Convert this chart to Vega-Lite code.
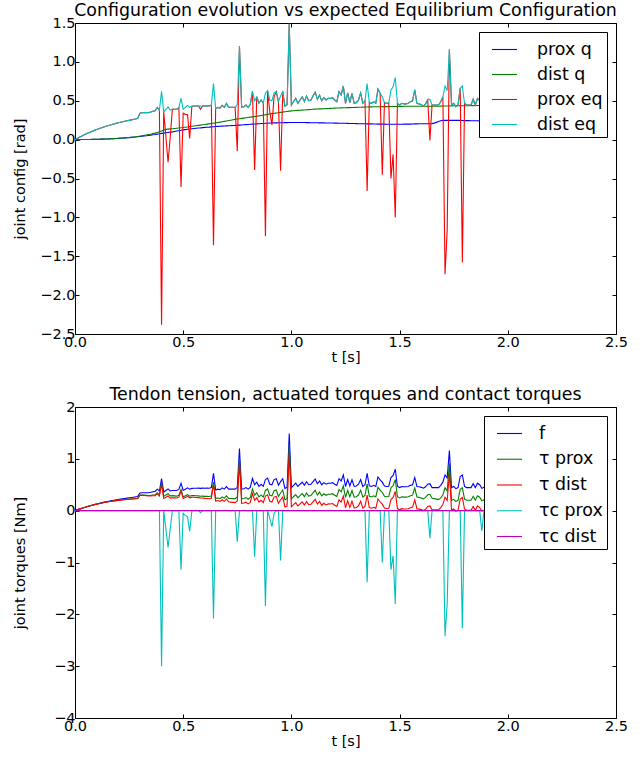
{
"$schema": "https://vega.github.io/schema/vega-lite/v6.json",
"padding": {"left": 11, "top": 1, "right": 5, "bottom": 5},
"background": "white",
"config": {
"font": "DejaVu Sans",
"view": {"stroke": "black", "strokeWidth": 1},
"axis": {"grid": false, "domain": false, "tickColor": "black", "tickSize": -4, "tickWidth": 1, "labelFont": "DejaVu Sans", "labelFontSize": 14.5, "labelColor": "black", "labelFlush": false, "titleFont": "DejaVu Sans", "titleFontSize": 14.5, "titleFontWeight": "normal", "titleColor": "black", "labelPadding": 4},
"axisX": {"labelPadding": 5},
"title": {"font": "DejaVu Sans", "fontSize": 17.4, "fontWeight": "normal", "color": "black", "anchor": "middle", "frame": "group", "offset": -4, "baseline": "alphabetic"},
"legend": {"title": null, "orient": "top-right", "offset": 9, "fillColor": "white", "strokeColor": "black", "symbolType": "stroke", "symbolSize": 625, "symbolStrokeWidth": 1.2, "labelFontSize": 17.4, "labelFont": "DejaVu Sans", "labelColor": "black", "cornerRadius": 0, "padding": 4, "symbolOffset": 8},
"line": {"strokeWidth": 1.1, "clip": true}
},
"datasets": {"d": [
{"t":0,"pq":0,"dq":0,"pe":0,"f":0,"tp":0,"td":0,"tc":0,"cd":0},
{"t":0.01,"pq":0,"dq":0,"pe":0.015,"f":0.015,"tp":0.015,"td":0.015,"tc":0,"cd":0},
{"t":0.02,"pq":0,"dq":0,"pe":0.03,"f":0.03,"tp":0.03,"td":0.03,"tc":0,"cd":0},
{"t":0.03,"pq":0.001,"dq":0.001,"pe":0.044,"f":0.044,"tp":0.043,"td":0.043,"tc":0,"cd":0},
{"t":0.04,"pq":0.001,"dq":0.001,"pe":0.058,"f":0.058,"tp":0.057,"td":0.057,"tc":0,"cd":0},
{"t":0.05,"pq":0.001,"dq":0.001,"pe":0.071,"f":0.071,"tp":0.07,"td":0.07,"tc":0,"cd":0},
{"t":0.06,"pq":0.002,"dq":0.002,"pe":0.084,"f":0.084,"tp":0.082,"td":0.082,"tc":0,"cd":0},
{"t":0.07,"pq":0.002,"dq":0.002,"pe":0.096,"f":0.096,"tp":0.094,"td":0.094,"tc":0,"cd":0},
{"t":0.08,"pq":0.003,"dq":0.003,"pe":0.108,"f":0.108,"tp":0.105,"td":0.105,"tc":0,"cd":0},
{"t":0.09,"pq":0.003,"dq":0.003,"pe":0.119,"f":0.119,"tp":0.116,"td":0.116,"tc":0,"cd":0},
{"t":0.1,"pq":0.004,"dq":0.004,"pe":0.13,"f":0.13,"tp":0.126,"td":0.126,"tc":0,"cd":0},
{"t":0.11,"pq":0.005,"dq":0.005,"pe":0.14,"f":0.14,"tp":0.135,"td":0.135,"tc":0,"cd":0},
{"t":0.12,"pq":0.006,"dq":0.006,"pe":0.15,"f":0.15,"tp":0.144,"td":0.144,"tc":0,"cd":0},
{"t":0.13,"pq":0.007,"dq":0.007,"pe":0.16,"f":0.16,"tp":0.153,"td":0.153,"tc":0,"cd":0},
{"t":0.14,"pq":0.008,"dq":0.008,"pe":0.169,"f":0.169,"tp":0.161,"td":0.161,"tc":0,"cd":0},
{"t":0.15,"pq":0.009,"dq":0.009,"pe":0.178,"f":0.178,"tp":0.169,"td":0.169,"tc":0,"cd":0},
{"t":0.16,"pq":0.01,"dq":0.01,"pe":0.186,"f":0.186,"tp":0.176,"td":0.176,"tc":0,"cd":0},
{"t":0.17,"pq":0.012,"dq":0.012,"pe":0.194,"f":0.194,"tp":0.182,"td":0.182,"tc":0,"cd":0},
{"t":0.18,"pq":0.013,"dq":0.013,"pe":0.202,"f":0.202,"tp":0.189,"td":0.189,"tc":0,"cd":0},
{"t":0.19,"pq":0.015,"dq":0.015,"pe":0.209,"f":0.209,"tp":0.194,"td":0.194,"tc":0,"cd":0},
{"t":0.2,"pq":0.016,"dq":0.017,"pe":0.216,"f":0.216,"tp":0.2,"td":0.199,"tc":0,"cd":0},
{"t":0.21,"pq":0.018,"dq":0.019,"pe":0.223,"f":0.223,"tp":0.205,"td":0.204,"tc":0,"cd":0},
{"t":0.22,"pq":0.02,"dq":0.021,"pe":0.23,"f":0.23,"tp":0.21,"td":0.209,"tc":0,"cd":0},
{"t":0.23,"pq":0.022,"dq":0.023,"pe":0.236,"f":0.236,"tp":0.214,"td":0.213,"tc":0,"cd":0},
{"t":0.24,"pq":0.024,"dq":0.025,"pe":0.242,"f":0.242,"tp":0.218,"td":0.217,"tc":0,"cd":0},
{"t":0.25,"pq":0.026,"dq":0.028,"pe":0.248,"f":0.248,"tp":0.222,"td":0.22,"tc":0,"cd":0},
{"t":0.26,"pq":0.029,"dq":0.031,"pe":0.254,"f":0.254,"tp":0.225,"td":0.223,"tc":0,"cd":0},
{"t":0.27,"pq":0.031,"dq":0.034,"pe":0.26,"f":0.26,"tp":0.229,"td":0.226,"tc":0,"cd":0},
{"t":0.28,"pq":0.034,"dq":0.037,"pe":0.266,"f":0.266,"tp":0.232,"td":0.229,"tc":0,"cd":0},
{"t":0.29,"pq":0.037,"dq":0.041,"pe":0.275,"f":0.275,"tp":0.238,"td":0.234,"tc":0,"cd":0},
{"t":0.3,"pq":0.04,"dq":0.045,"pe":0.34,"f":0.34,"tp":0.3,"td":0.295,"tc":0,"cd":0},
{"t":0.31,"pq":0.043,"dq":0.05,"pe":0.345,"f":0.345,"tp":0.302,"td":0.295,"tc":0,"cd":0},
{"t":0.32,"pq":0.047,"dq":0.055,"pe":0.347,"f":0.347,"tp":0.3,"td":0.292,"tc":0,"cd":0},
{"t":0.33,"pq":0.05,"dq":0.06,"pe":0.347,"f":0.347,"tp":0.297,"td":0.287,"tc":0,"cd":0},
{"t":0.34,"pq":0.054,"dq":0.065,"pe":0.347,"f":0.347,"tp":0.293,"td":0.282,"tc":0,"cd":0},
{"t":0.35,"pq":0.058,"dq":0.07,"pe":0.355,"f":0.355,"tp":0.297,"td":0.285,"tc":0,"cd":0},
{"t":0.36,"pq":0.062,"dq":0.077,"pe":0.365,"f":0.365,"tp":0.303,"td":0.288,"tc":0,"cd":0},
{"t":0.37,"pq":0.066,"dq":0.084,"pe":0.372,"f":0.372,"tp":0.306,"td":0.288,"tc":0,"cd":0},
{"t":0.38,"pq":0.071,"dq":0.092,"pe":0.415,"f":0.415,"tp":0.344,"td":0.323,"tc":0,"cd":0},
{"t":0.39,"pq":0.075,"dq":0.1,"pe":0.38,"f":0.38,"tp":0.305,"td":0.28,"tc":0,"cd":0},
{"t":0.4,"pq":0.08,"dq":0.11,"pe":-2.38,"f":0.62,"tp":0.54,"td":0.51,"tc":-3,"cd":0},
{"t":0.41,"pq":0.084,"dq":0.125,"pe":0.36,"f":0.36,"tp":0.276,"td":0.235,"tc":0,"cd":0},
{"t":0.42,"pq":0.088,"dq":0.132,"pe":0.04,"f":0.39,"tp":0.302,"td":0.258,"tc":-0.35,"cd":0},
{"t":0.43,"pq":0.092,"dq":0.135,"pe":-0.29,"f":0.42,"tp":0.328,"td":0.285,"tc":-0.71,"cd":0},
{"t":0.44,"pq":0.096,"dq":0.138,"pe":0.03,"f":0.38,"tp":0.284,"td":0.242,"tc":-0.35,"cd":0},
{"t":0.45,"pq":0.1,"dq":0.14,"pe":0.39,"f":0.39,"tp":0.29,"td":0.25,"tc":0,"cd":0},
{"t":0.46,"pq":0.105,"dq":0.143,"pe":0.39,"f":0.39,"tp":0.285,"td":0.247,"tc":0,"cd":0},
{"t":0.47,"pq":0.11,"dq":0.146,"pe":0.39,"f":0.39,"tp":0.28,"td":0.244,"tc":0,"cd":0},
{"t":0.48,"pq":0.115,"dq":0.149,"pe":0.41,"f":0.41,"tp":0.295,"td":0.261,"tc":0,"cd":0},
{"t":0.49,"pq":0.12,"dq":0.152,"pe":-0.61,"f":0.53,"tp":0.41,"td":0.378,"tc":-1.14,"cd":0},
{"t":0.5,"pq":0.125,"dq":0.155,"pe":0.34,"f":0.39,"tp":0.265,"td":0.235,"tc":-0.05,"cd":0},
{"t":0.51,"pq":0.129,"dq":0.159,"pe":0.325,"f":0.415,"tp":0.286,"td":0.256,"tc":-0.09,"cd":0},
{"t":0.52,"pq":0.133,"dq":0.163,"pe":0.32,"f":0.44,"tp":0.307,"td":0.277,"tc":-0.12,"cd":0},
{"t":0.53,"pq":0.136,"dq":0.167,"pe":0.015,"f":0.415,"tp":0.279,"td":0.248,"tc":-0.4,"cd":0},
{"t":0.54,"pq":0.14,"dq":0.171,"pe":0.43,"f":0.43,"tp":0.29,"td":0.259,"tc":0,"cd":0},
{"t":0.55,"pq":0.143,"dq":0.175,"pe":0.433,"f":0.433,"tp":0.29,"td":0.258,"tc":0,"cd":0},
{"t":0.56,"pq":0.146,"dq":0.179,"pe":0.433,"f":0.433,"tp":0.287,"td":0.254,"tc":0,"cd":0},
{"t":0.57,"pq":0.149,"dq":0.183,"pe":0.435,"f":0.435,"tp":0.286,"td":0.252,"tc":0,"cd":0},
{"t":0.58,"pq":0.151,"dq":0.187,"pe":0.39,"f":0.43,"tp":0.279,"td":0.243,"tc":-0.04,"cd":0},
{"t":0.59,"pq":0.154,"dq":0.191,"pe":0.435,"f":0.435,"tp":0.281,"td":0.244,"tc":0,"cd":0},
{"t":0.6,"pq":0.157,"dq":0.195,"pe":0.433,"f":0.433,"tp":0.276,"td":0.238,"tc":0,"cd":0},
{"t":0.61,"pq":0.159,"dq":0.199,"pe":0.435,"f":0.435,"tp":0.276,"td":0.236,"tc":0,"cd":0},
{"t":0.62,"pq":0.161,"dq":0.203,"pe":0.433,"f":0.433,"tp":0.272,"td":0.23,"tc":0,"cd":0},
{"t":0.63,"pq":0.164,"dq":0.207,"pe":0.445,"f":0.445,"tp":0.281,"td":0.238,"tc":0,"cd":0},
{"t":0.64,"pq":0.166,"dq":0.211,"pe":-1.36,"f":0.72,"tp":0.554,"td":0.509,"tc":-2.08,"cd":0},
{"t":0.65,"pq":0.168,"dq":0.215,"pe":0.4,"f":0.4,"tp":0.232,"td":0.185,"tc":0,"cd":0},
{"t":0.66,"pq":0.17,"dq":0.22,"pe":0.415,"f":0.415,"tp":0.245,"td":0.195,"tc":0,"cd":0},
{"t":0.67,"pq":0.172,"dq":0.225,"pe":0.405,"f":0.405,"tp":0.233,"td":0.18,"tc":0,"cd":0},
{"t":0.68,"pq":0.174,"dq":0.23,"pe":0.44,"f":0.44,"tp":0.266,"td":0.21,"tc":0,"cd":0},
{"t":0.69,"pq":0.175,"dq":0.235,"pe":0.415,"f":0.415,"tp":0.24,"td":0.18,"tc":0,"cd":0},
{"t":0.7,"pq":0.177,"dq":0.24,"pe":0.465,"f":0.465,"tp":0.288,"td":0.225,"tc":0,"cd":0},
{"t":0.71,"pq":0.179,"dq":0.245,"pe":0.415,"f":0.415,"tp":0.236,"td":0.17,"tc":0,"cd":0},
{"t":0.72,"pq":0.18,"dq":0.25,"pe":0.415,"f":0.415,"tp":0.235,"td":0.165,"tc":0,"cd":0},
{"t":0.73,"pq":0.182,"dq":0.255,"pe":0.415,"f":0.415,"tp":0.233,"td":0.16,"tc":0,"cd":0},
{"t":0.74,"pq":0.183,"dq":0.26,"pe":0.415,"f":0.415,"tp":0.232,"td":0.155,"tc":0,"cd":0},
{"t":0.75,"pq":0.185,"dq":0.265,"pe":-0.15,"f":0.45,"tp":0.265,"td":0.185,"tc":-0.6,"cd":0},
{"t":0.76,"pq":0.187,"dq":0.269,"pe":1.2,"f":1.2,"tp":1.013,"td":0.931,"tc":0,"cd":0},
{"t":0.77,"pq":0.189,"dq":0.273,"pe":0.415,"f":0.415,"tp":0.226,"td":0.142,"tc":0,"cd":0},
{"t":0.78,"pq":0.191,"dq":0.277,"pe":0.424,"f":0.424,"tp":0.233,"td":0.147,"tc":0,"cd":0},
{"t":0.79,"pq":0.193,"dq":0.281,"pe":0.445,"f":0.445,"tp":0.252,"td":0.164,"tc":0,"cd":0},
{"t":0.8,"pq":0.195,"dq":0.285,"pe":0.415,"f":0.415,"tp":0.22,"td":0.13,"tc":0,"cd":0},
{"t":0.81,"pq":0.197,"dq":0.289,"pe":0.45,"f":0.45,"tp":0.253,"td":0.161,"tc":0,"cd":0},
{"t":0.82,"pq":0.199,"dq":0.293,"pe":0.62,"f":0.62,"tp":0.421,"td":0.327,"tc":0,"cd":0},
{"t":0.83,"pq":0.201,"dq":0.297,"pe":-0.39,"f":0.5,"tp":0.299,"td":0.203,"tc":-0.89,"cd":0},
{"t":0.84,"pq":0.203,"dq":0.301,"pe":0.55,"f":0.55,"tp":0.347,"td":0.249,"tc":0,"cd":0},
{"t":0.85,"pq":0.205,"dq":0.305,"pe":0.47,"f":0.47,"tp":0.265,"td":0.165,"tc":0,"cd":0},
{"t":0.86,"pq":0.207,"dq":0.31,"pe":0.51,"f":0.51,"tp":0.303,"td":0.2,"tc":0,"cd":0},
{"t":0.87,"pq":0.208,"dq":0.315,"pe":0.47,"f":0.47,"tp":0.262,"td":0.155,"tc":0,"cd":0},
{"t":0.88,"pq":0.21,"dq":0.32,"pe":-1.24,"f":0.6,"tp":0.39,"td":0.28,"tc":-1.84,"cd":0},
{"t":0.89,"pq":0.211,"dq":0.325,"pe":0.63,"f":0.63,"tp":0.419,"td":0.305,"tc":0,"cd":0},
{"t":0.9,"pq":0.213,"dq":0.33,"pe":0.36,"f":0.51,"tp":0.297,"td":0.18,"tc":-0.15,"cd":0},
{"t":0.91,"pq":0.214,"dq":0.334,"pe":0.19,"f":0.5,"tp":0.286,"td":0.166,"tc":-0.31,"cd":0},
{"t":0.92,"pq":0.215,"dq":0.338,"pe":0.55,"f":0.6,"tp":0.385,"td":0.262,"tc":-0.05,"cd":0},
{"t":0.93,"pq":0.216,"dq":0.342,"pe":0.617,"f":0.617,"tp":0.401,"td":0.275,"tc":0,"cd":0},
{"t":0.94,"pq":0.217,"dq":0.346,"pe":0.49,"f":0.49,"tp":0.273,"td":0.144,"tc":0,"cd":0},
{"t":0.95,"pq":0.218,"dq":0.35,"pe":-0.4,"f":0.56,"tp":0.342,"td":0.21,"tc":-0.96,"cd":0},
{"t":0.96,"pq":0.218,"dq":0.354,"pe":0.617,"f":0.617,"tp":0.399,"td":0.263,"tc":0,"cd":0},
{"t":0.97,"pq":0.219,"dq":0.358,"pe":0.43,"f":0.43,"tp":0.211,"td":0.072,"tc":0,"cd":0},
{"t":0.98,"pq":0.219,"dq":0.362,"pe":0.45,"f":0.45,"tp":0.231,"td":0.088,"tc":0,"cd":0},
{"t":0.99,"pq":0.22,"dq":0.366,"pe":1.49,"f":1.49,"tp":1.27,"td":1.124,"tc":0,"cd":0},
{"t":1,"pq":0.22,"dq":0.37,"pe":0.445,"f":0.445,"tp":0.225,"td":0.075,"tc":0,"cd":0},
{"t":1.01,"pq":0.22,"dq":0.372,"pe":0.49,"f":0.49,"tp":0.27,"td":0.118,"tc":0,"cd":0},
{"t":1.02,"pq":0.22,"dq":0.374,"pe":0.53,"f":0.53,"tp":0.31,"td":0.156,"tc":0,"cd":0},
{"t":1.03,"pq":0.22,"dq":0.376,"pe":0.467,"f":0.467,"tp":0.247,"td":0.091,"tc":0,"cd":0},
{"t":1.04,"pq":0.22,"dq":0.378,"pe":0.51,"f":0.51,"tp":0.29,"td":0.132,"tc":0,"cd":0},
{"t":1.05,"pq":0.22,"dq":0.38,"pe":0.55,"f":0.55,"tp":0.33,"td":0.17,"tc":0,"cd":0},
{"t":1.06,"pq":0.22,"dq":0.382,"pe":0.49,"f":0.49,"tp":0.27,"td":0.108,"tc":0,"cd":0},
{"t":1.07,"pq":0.219,"dq":0.384,"pe":0.56,"f":0.56,"tp":0.341,"td":0.176,"tc":0,"cd":0},
{"t":1.08,"pq":0.219,"dq":0.386,"pe":0.5,"f":0.5,"tp":0.281,"td":0.114,"tc":0,"cd":0},
{"t":1.09,"pq":0.218,"dq":0.388,"pe":0.51,"f":0.51,"tp":0.292,"td":0.122,"tc":0,"cd":0},
{"t":1.1,"pq":0.218,"dq":0.39,"pe":0.56,"f":0.56,"tp":0.342,"td":0.17,"tc":0,"cd":0},
{"t":1.11,"pq":0.217,"dq":0.392,"pe":0.61,"f":0.61,"tp":0.393,"td":0.218,"tc":0,"cd":0},
{"t":1.12,"pq":0.217,"dq":0.393,"pe":0.52,"f":0.52,"tp":0.303,"td":0.127,"tc":0,"cd":0},
{"t":1.13,"pq":0.216,"dq":0.395,"pe":0.574,"f":0.574,"tp":0.358,"td":0.179,"tc":0,"cd":0},
{"t":1.14,"pq":0.216,"dq":0.396,"pe":0.5,"f":0.5,"tp":0.284,"td":0.104,"tc":0,"cd":0},
{"t":1.15,"pq":0.215,"dq":0.398,"pe":0.54,"f":0.54,"tp":0.325,"td":0.142,"tc":0,"cd":0},
{"t":1.16,"pq":0.214,"dq":0.399,"pe":0.51,"f":0.51,"tp":0.296,"td":0.111,"tc":0,"cd":0},
{"t":1.17,"pq":0.214,"dq":0.4,"pe":0.53,"f":0.53,"tp":0.316,"td":0.13,"tc":0,"cd":0},
{"t":1.18,"pq":0.213,"dq":0.402,"pe":0.53,"f":0.53,"tp":0.317,"td":0.128,"tc":0,"cd":0},
{"t":1.19,"pq":0.213,"dq":0.403,"pe":0.54,"f":0.54,"tp":0.327,"td":0.137,"tc":0,"cd":0},
{"t":1.2,"pq":0.212,"dq":0.405,"pe":0.51,"f":0.51,"tp":0.298,"td":0.105,"tc":0,"cd":0},
{"t":1.21,"pq":0.212,"dq":0.406,"pe":0.488,"f":0.488,"tp":0.276,"td":0.082,"tc":0,"cd":0},
{"t":1.22,"pq":0.211,"dq":0.407,"pe":0.617,"f":0.617,"tp":0.406,"td":0.21,"tc":0,"cd":0},
{"t":1.23,"pq":0.211,"dq":0.408,"pe":0.574,"f":0.574,"tp":0.363,"td":0.166,"tc":0,"cd":0},
{"t":1.24,"pq":0.21,"dq":0.409,"pe":0.69,"f":0.69,"tp":0.48,"td":0.281,"tc":0,"cd":0},
{"t":1.25,"pq":0.21,"dq":0.41,"pe":0.467,"f":0.467,"tp":0.257,"td":0.057,"tc":0,"cd":0},
{"t":1.26,"pq":0.209,"dq":0.411,"pe":0.6,"f":0.6,"tp":0.391,"td":0.189,"tc":0,"cd":0},
{"t":1.27,"pq":0.208,"dq":0.412,"pe":0.475,"f":0.475,"tp":0.267,"td":0.063,"tc":0,"cd":0},
{"t":1.28,"pq":0.207,"dq":0.413,"pe":0.595,"f":0.595,"tp":0.388,"td":0.182,"tc":0,"cd":0},
{"t":1.29,"pq":0.207,"dq":0.414,"pe":0.467,"f":0.467,"tp":0.26,"td":0.053,"tc":0,"cd":0},
{"t":1.3,"pq":0.206,"dq":0.415,"pe":0.475,"f":0.475,"tp":0.269,"td":0.06,"tc":0,"cd":0},
{"t":1.31,"pq":0.205,"dq":0.416,"pe":0.51,"f":0.51,"tp":0.305,"td":0.094,"tc":0,"cd":0},
{"t":1.32,"pq":0.205,"dq":0.417,"pe":0.6,"f":0.6,"tp":0.395,"td":0.183,"tc":0,"cd":0},
{"t":1.33,"pq":0.204,"dq":0.418,"pe":0.467,"f":0.467,"tp":0.263,"td":0.049,"tc":0,"cd":0},
{"t":1.34,"pq":0.204,"dq":0.419,"pe":0.5,"f":0.5,"tp":0.296,"td":0.081,"tc":0,"cd":0},
{"t":1.35,"pq":0.203,"dq":0.42,"pe":-0.66,"f":0.72,"tp":0.517,"td":0.3,"tc":-1.38,"cd":0},
{"t":1.36,"pq":0.202,"dq":0.421,"pe":0.48,"f":0.48,"tp":0.278,"td":0.059,"tc":0,"cd":0},
{"t":1.37,"pq":0.202,"dq":0.421,"pe":0.467,"f":0.467,"tp":0.265,"td":0.046,"tc":0,"cd":0},
{"t":1.38,"pq":0.201,"dq":0.422,"pe":0.488,"f":0.488,"tp":0.287,"td":0.066,"tc":0,"cd":0},
{"t":1.39,"pq":0.201,"dq":0.422,"pe":0.467,"f":0.467,"tp":0.266,"td":0.045,"tc":0,"cd":0},
{"t":1.4,"pq":0.2,"dq":0.423,"pe":0.65,"f":0.65,"tp":0.45,"td":0.227,"tc":0,"cd":0},
{"t":1.41,"pq":0.2,"dq":0.423,"pe":0.595,"f":0.595,"tp":0.395,"td":0.172,"tc":0,"cd":0},
{"t":1.42,"pq":0.199,"dq":0.424,"pe":-0.45,"f":0.55,"tp":0.351,"td":0.126,"tc":-1,"cd":0},
{"t":1.43,"pq":0.199,"dq":0.424,"pe":0.475,"f":0.475,"tp":0.276,"td":0.051,"tc":0,"cd":0},
{"t":1.44,"pq":0.198,"dq":0.425,"pe":0.467,"f":0.467,"tp":0.269,"td":0.042,"tc":0,"cd":0},
{"t":1.45,"pq":0.198,"dq":0.425,"pe":0.47,"f":0.47,"tp":0.272,"td":0.045,"tc":0,"cd":0},
{"t":1.46,"pq":0.198,"dq":0.426,"pe":-0.5,"f":0.64,"tp":0.442,"td":0.214,"tc":-1.14,"cd":0},
{"t":1.47,"pq":0.198,"dq":0.426,"pe":-0.19,"f":0.68,"tp":0.482,"td":0.254,"tc":-0.87,"cd":0},
{"t":1.48,"pq":0.198,"dq":0.427,"pe":-1,"f":0.8,"tp":0.602,"td":0.373,"tc":-1.8,"cd":0},
{"t":1.49,"pq":0.198,"dq":0.427,"pe":0.467,"f":0.467,"tp":0.269,"td":0.04,"tc":0,"cd":0},
{"t":1.5,"pq":0.198,"dq":0.428,"pe":0.445,"f":0.445,"tp":0.247,"td":0.017,"tc":0,"cd":0},
{"t":1.51,"pq":0.198,"dq":0.428,"pe":0.467,"f":0.467,"tp":0.269,"td":0.039,"tc":0,"cd":0},
{"t":1.52,"pq":0.199,"dq":0.429,"pe":0.46,"f":0.46,"tp":0.261,"td":0.031,"tc":0,"cd":0},
{"t":1.53,"pq":0.199,"dq":0.429,"pe":0.46,"f":0.46,"tp":0.261,"td":0.031,"tc":0,"cd":0},
{"t":1.54,"pq":0.2,"dq":0.43,"pe":0.467,"f":0.467,"tp":0.267,"td":0.037,"tc":0,"cd":0},
{"t":1.55,"pq":0.2,"dq":0.43,"pe":0.488,"f":0.488,"tp":0.288,"td":0.058,"tc":0,"cd":0},
{"t":1.56,"pq":0.201,"dq":0.43,"pe":0.5,"f":0.5,"tp":0.299,"td":0.07,"tc":0,"cd":0},
{"t":1.57,"pq":0.202,"dq":0.43,"pe":0.64,"f":0.64,"tp":0.438,"td":0.21,"tc":0,"cd":0},
{"t":1.58,"pq":0.203,"dq":0.43,"pe":0.467,"f":0.467,"tp":0.264,"td":0.037,"tc":0,"cd":0},
{"t":1.59,"pq":0.204,"dq":0.43,"pe":0.46,"f":0.46,"tp":0.256,"td":0.03,"tc":0,"cd":0},
{"t":1.6,"pq":0.205,"dq":0.43,"pe":0.45,"f":0.45,"tp":0.245,"td":0.02,"tc":0,"cd":0},
{"t":1.61,"pq":0.205,"dq":0.43,"pe":0.433,"f":0.433,"tp":0.228,"td":0.003,"tc":0,"cd":0},
{"t":1.62,"pq":0.205,"dq":0.43,"pe":0.46,"f":0.46,"tp":0.255,"td":0.03,"tc":0,"cd":0},
{"t":1.63,"pq":0.204,"dq":0.43,"pe":0.51,"f":0.51,"tp":0.306,"td":0.08,"tc":0,"cd":0},
{"t":1.64,"pq":0.204,"dq":0.43,"pe":-0.01,"f":0.52,"tp":0.316,"td":0.09,"tc":-0.53,"cd":0},
{"t":1.65,"pq":0.206,"dq":0.43,"pe":0.445,"f":0.445,"tp":0.239,"td":0.015,"tc":0,"cd":0},
{"t":1.66,"pq":0.212,"dq":0.43,"pe":0.445,"f":0.445,"tp":0.233,"td":0.015,"tc":0,"cd":0},
{"t":1.67,"pq":0.222,"dq":0.43,"pe":0.445,"f":0.445,"tp":0.223,"td":0.015,"tc":0,"cd":0},
{"t":1.68,"pq":0.232,"dq":0.43,"pe":0.445,"f":0.445,"tp":0.213,"td":0.015,"tc":0,"cd":0},
{"t":1.69,"pq":0.242,"dq":0.431,"pe":0.488,"f":0.488,"tp":0.246,"td":0.057,"tc":0,"cd":0},
{"t":1.7,"pq":0.247,"dq":0.432,"pe":0.55,"f":0.55,"tp":0.303,"td":0.118,"tc":0,"cd":0},
{"t":1.71,"pq":0.248,"dq":0.432,"pe":-1.73,"f":0.69,"tp":0.442,"td":0.258,"tc":-2.42,"cd":0},
{"t":1.72,"pq":0.248,"dq":0.433,"pe":-1.16,"f":0.63,"tp":0.382,"td":0.197,"tc":-1.79,"cd":0},
{"t":1.73,"pq":0.248,"dq":0.433,"pe":1.16,"f":1.16,"tp":0.912,"td":0.727,"tc":0,"cd":0},
{"t":1.74,"pq":0.248,"dq":0.434,"pe":0.445,"f":0.445,"tp":0.197,"td":0.011,"tc":0,"cd":0},
{"t":1.75,"pq":0.248,"dq":0.435,"pe":0.467,"f":0.467,"tp":0.219,"td":0.032,"tc":0,"cd":0},
{"t":1.76,"pq":0.248,"dq":0.435,"pe":0.424,"f":0.424,"tp":0.176,"td":-0.011,"tc":0,"cd":0},
{"t":1.77,"pq":0.247,"dq":0.435,"pe":0.445,"f":0.445,"tp":0.198,"td":0.01,"tc":0,"cd":0},
{"t":1.78,"pq":0.247,"dq":0.435,"pe":0.66,"f":0.66,"tp":0.413,"td":0.225,"tc":0,"cd":0},
{"t":1.79,"pq":0.246,"dq":0.435,"pe":-1.58,"f":0.69,"tp":0.444,"td":0.255,"tc":-2.27,"cd":0},
{"t":1.8,"pq":0.245,"dq":0.435,"pe":0.467,"f":0.467,"tp":0.222,"td":0.032,"tc":0,"cd":0},
{"t":1.81,"pq":0.245,"dq":0.436,"pe":0.445,"f":0.445,"tp":0.2,"td":0.009,"tc":0,"cd":0},
{"t":1.82,"pq":0.244,"dq":0.436,"pe":0.445,"f":0.445,"tp":0.201,"td":0.009,"tc":0,"cd":0},
{"t":1.83,"pq":0.243,"dq":0.437,"pe":0.445,"f":0.445,"tp":0.202,"td":0.008,"tc":0,"cd":0},
{"t":1.84,"pq":0.243,"dq":0.437,"pe":0.52,"f":0.52,"tp":0.277,"td":0.083,"tc":0,"cd":0},
{"t":1.85,"pq":0.242,"dq":0.438,"pe":0.445,"f":0.445,"tp":0.203,"td":0.007,"tc":0,"cd":0},
{"t":1.86,"pq":0.242,"dq":0.438,"pe":0.53,"f":0.53,"tp":0.288,"td":0.092,"tc":0,"cd":0},
{"t":1.87,"pq":0.241,"dq":0.439,"pe":0.5,"f":0.5,"tp":0.259,"td":0.061,"tc":0,"cd":0},
{"t":1.88,"pq":0.241,"dq":0.439,"pe":0.04,"f":0.43,"tp":0.189,"td":-0.009,"tc":-0.39,"cd":0},
{"t":1.89,"pq":0.24,"dq":0.44,"pe":0.45,"f":0.45,"tp":0.21,"td":0.01,"tc":0,"cd":0},
{"t":1.9,"pq":0.24,"dq":0.44,"pe":0.47,"f":0.47,"tp":0.23,"td":0.03,"tc":0,"cd":0},
{"t":1.91,"pq":0.24,"dq":0.44,"pe":0.46,"f":0.46,"tp":0.22,"td":0.02,"tc":0,"cd":0},
{"t":1.92,"pq":0.24,"dq":0.441,"pe":0.48,"f":0.48,"tp":0.24,"td":0.039,"tc":0,"cd":0},
{"t":1.93,"pq":0.239,"dq":0.441,"pe":0.45,"f":0.45,"tp":0.211,"td":0.009,"tc":0,"cd":0},
{"t":1.94,"pq":0.239,"dq":0.442,"pe":0.46,"f":0.46,"tp":0.221,"td":0.018,"tc":0,"cd":0},
{"t":1.95,"pq":0.239,"dq":0.442,"pe":0.47,"f":0.47,"tp":0.231,"td":0.028,"tc":0,"cd":0},
{"t":1.96,"pq":0.239,"dq":0.443,"pe":0.46,"f":0.46,"tp":0.221,"td":0.017,"tc":0,"cd":0},
{"t":1.97,"pq":0.238,"dq":0.443,"pe":0.45,"f":0.45,"tp":0.212,"td":0.007,"tc":0,"cd":0},
{"t":1.98,"pq":0.238,"dq":0.444,"pe":0.47,"f":0.47,"tp":0.232,"td":0.026,"tc":0,"cd":0},
{"t":1.99,"pq":0.238,"dq":0.444,"pe":0.46,"f":0.46,"tp":0.222,"td":0.016,"tc":0,"cd":0},
{"t":2,"pq":0.238,"dq":0.445,"pe":0.46,"f":0.46,"tp":0.222,"td":0.015,"tc":0,"cd":0}
]},
"data": {"name": "d"},
"bounds": "flush",
"spacing": 73,
"resolve": {"scale": {"color": "independent"}, "legend": {"color": "independent"}},
"vconcat": [
{
"title": "Configuration evolution vs expected Equilibrium Configuration",
"width": 541, "height": 311,
"resolve": {"axis": {"x": "independent", "y": "independent"}},
"layer": [
{"mark": "line", "encoding": {
"x": {"field": "t", "type": "quantitative", "scale": {"domain": [0, 2.5], "nice": false, "zero": false}, "axis": {"values": [0, 0.5, 1, 1.5, 2, 2.5], "format": ".1f", "title": "t [s]", "titlePadding": 2}},
"y": {"field": "pq", "type": "quantitative", "scale": {"domain": [-2.5, 1.5], "nice": false, "zero": false}, "axis": {"values": [-2.5, -2, -1.5, -1, -0.5, 0, 0.5, 1, 1.5], "format": ".1f", "title": "joint config [rad]", "titleX": -48}},
"color": {"datum": "prox q", "type": "nominal", "scale": {"domain": ["prox q", "dist q", "prox eq", "dist eq"], "range": ["#0000ff", "#008000", "#ff0000", "#00bfbf"]}, "legend": {"rowPadding": 3, "labelOffset": 19}}
}},
{"mark": "line", "encoding": {
"x": {"field": "t", "type": "quantitative", "axis": null},
"y": {"field": "dq", "type": "quantitative", "axis": null},
"color": {"datum": "dist q", "type": "nominal"}
}},
{"mark": "line", "encoding": {
"x": {"field": "t", "type": "quantitative", "axis": null},
"y": {"field": "pe", "type": "quantitative", "axis": null},
"color": {"datum": "prox eq", "type": "nominal"}
}},
{"mark": "line", "encoding": {
"x": {"field": "t", "type": "quantitative", "axis": {"orient": "top", "labels": false, "title": null, "values": [0, 0.5, 1, 1.5, 2, 2.5]}},
"y": {"field": "f", "type": "quantitative", "axis": {"orient": "right", "labels": false, "title": null, "values": [-2.5, -2, -1.5, -1, -0.5, 0, 0.5, 1, 1.5]}},
"color": {"datum": "dist eq", "type": "nominal"}
}}
]
},
{
"title": "Tendon tension, actuated torques and contact torques",
"width": 541, "height": 311,
"resolve": {"axis": {"x": "independent", "y": "independent"}},
"layer": [
{"mark": "line", "encoding": {
"x": {"field": "t", "type": "quantitative", "scale": {"domain": [0, 2.5], "nice": false, "zero": false}, "axis": {"values": [0, 0.5, 1, 1.5, 2, 2.5], "format": ".1f", "title": "t [s]", "titlePadding": 2}},
"y": {"field": "f", "type": "quantitative", "scale": {"domain": [-4, 2], "nice": false, "zero": false}, "axis": {"values": [-4, -3, -2, -1, 0, 1, 2], "format": "d", "title": "joint torques [Nm]", "titleX": -48}},
"color": {"datum": "f", "type": "nominal", "scale": {"domain": ["f", "τ prox", "τ dist", "τc prox", "τc dist"], "range": ["#0000ff", "#008000", "#ff0000", "#00bfbf", "#bf00bf"]}, "legend": {"rowPadding": 3.75, "labelOffset": 16}}
}},
{"mark": "line", "encoding": {
"x": {"field": "t", "type": "quantitative", "axis": null},
"y": {"field": "tp", "type": "quantitative", "axis": null},
"color": {"datum": "τ prox", "type": "nominal"}
}},
{"mark": "line", "encoding": {
"x": {"field": "t", "type": "quantitative", "axis": null},
"y": {"field": "td", "type": "quantitative", "axis": null},
"color": {"datum": "τ dist", "type": "nominal"}
}},
{"mark": "line", "encoding": {
"x": {"field": "t", "type": "quantitative", "axis": null},
"y": {"field": "tc", "type": "quantitative", "axis": null},
"color": {"datum": "τc prox", "type": "nominal"}
}},
{"mark": "line", "encoding": {
"x": {"field": "t", "type": "quantitative", "axis": {"orient": "top", "labels": false, "title": null, "values": [0, 0.5, 1, 1.5, 2, 2.5]}},
"y": {"field": "cd", "type": "quantitative", "axis": {"orient": "right", "labels": false, "title": null, "values": [-4, -3, -2, -1, 0, 1, 2]}},
"color": {"datum": "τc dist", "type": "nominal"}
}}
]
}
]
}
